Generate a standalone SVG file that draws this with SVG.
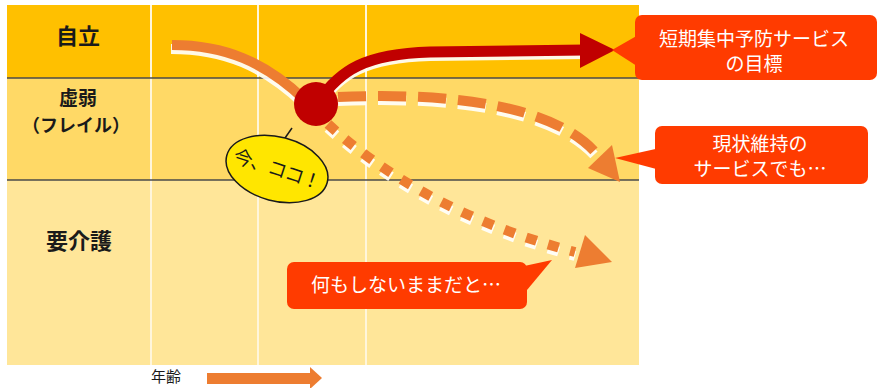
<svg xmlns="http://www.w3.org/2000/svg" width="878" height="388" viewBox="0 0 878 388">
<defs>
<style>
.lbl{font-family:"Noto Sans CJK JP","Noto Sans",sans-serif;font-weight:bold;fill:#1a1a1a;text-anchor:middle}
.co{font-family:"Noto Sans CJK JP","Noto Sans",sans-serif;font-size:19px;fill:#fff;text-anchor:middle}
.callout{fill:#FF3B00}
.shadow{fill:none;stroke:#fff;stroke-width:10;opacity:0.9}
.orange{fill:none;stroke:#ED7D31;stroke-width:10}
.vline{stroke:#FFF6DC;stroke-width:2}
.hline{stroke:#4a4a4a;stroke-width:1.5}
</style>
</defs>
<rect width="878" height="388" fill="#fff"/>
<g id="chart">
<rect x="7" y="5" width="632" height="73" fill="#FFC000"/>
<rect x="7" y="78" width="632" height="102" fill="#FFD966"/>
<rect x="7" y="180" width="632" height="185" fill="#FFE699"/>
<line class="vline" x1="151" y1="5" x2="151" y2="365"/>
<line class="vline" x1="258" y1="5" x2="258" y2="365"/>
<line class="vline" x1="366" y1="5" x2="366" y2="365"/>
<line class="hline" x1="7" y1="78" x2="639" y2="78"/>
<line class="hline" x1="7" y1="180" x2="639" y2="180"/>
</g>
<g id="row-jiritsu"><text class="lbl" x="78" y="44" font-size="22">自立</text></g>
<g id="row-frail"><text class="lbl" x="78" y="105" font-size="19">虚弱</text><text class="lbl" x="76" y="132" font-size="18">（フレイル）</text></g>
<g id="row-kaigo"><text class="lbl" x="79" y="249" font-size="22">要介護</text></g>
<g id="connectors">
<path class="shadow" transform="translate(-1,4)" d="M172,45 C225,45 265,62 305,100"/>
<path class="orange" d="M172,45 C225,45 265,62 305,100"/>
<path class="shadow" transform="translate(0,4)" d="M338,97 C450,92 560,105 600,158" stroke-dasharray="28 12"/>
<path class="orange" d="M338,97 C450,92 560,105 600,158" stroke-dasharray="28 12"/>
<polygon points="612,145 588,168 620,182" fill="#ED7D31"/>
<path class="shadow" transform="translate(0,4)" d="M328,124 C380,172 460,222 575,252" stroke-dasharray="11 12"/>
<path class="orange" d="M328,124 C380,172 460,222 575,252" stroke-dasharray="11 12"/>
<polygon points="585,235 575,268 612,262" fill="#ED7D31"/>
<path class="shadow" transform="translate(0,4)" d="M318,102 C340,70 365,54 430,52 L585,50"/>
<path fill="none" stroke="#C00000" stroke-width="11" d="M318,102 C340,70 365,54 430,52 L585,50"/>
<polygon points="580,33 615,50 580,68" fill="#C00000"/>
<circle cx="316" cy="104" r="22" fill="#C00000"/>
<rect x="207" y="373" width="104" height="11" fill="#ED7D31"/>
<polygon points="310,367 322,378 310,389" fill="#ED7D31"/>
</g>
<g id="age-label"><text x="166" y="382" font-family="Noto Sans CJK JP, sans-serif" font-size="15" fill="#1a1a1a" text-anchor="middle">年齢</text></g>
<g id="callout-goal">
<polygon class="callout" points="612,50 640,34 640,68"/>
<rect class="callout" x="635" y="15" width="242" height="65" rx="7"/>
<text class="co" x="754" y="46">短期集中予防サービス</text>
<text class="co" x="754" y="71">の目標</text>
</g>
<g id="callout-maintain">
<polygon class="callout" points="615,158 660,148 660,170"/>
<rect class="callout" x="655" y="126" width="213" height="58" rx="7"/>
<text class="co" x="760" y="151">現状維持の</text>
<text class="co" x="760" y="176">サービスでも…</text>
</g>
<g id="callout-nothing">
<polygon class="callout" points="515,268 552,260 527,290"/>
<rect class="callout" x="287" y="262" width="240" height="47" rx="7"/>
<text class="co" x="406" y="292">何もしないままだと…</text>
</g>
<g id="now-here">
<line x1="285" y1="138" x2="292" y2="128" stroke="#1a1a1a" stroke-width="1.5"/>
<ellipse cx="277" cy="169" rx="52" ry="32" transform="rotate(15 277 169)" fill="#FFE600" stroke="#1a1a1a" stroke-width="1.5"/>
<text x="277" y="176" transform="rotate(18 277 169)" font-family="Noto Sans CJK JP, sans-serif" font-size="19" fill="#1a1a1a" text-anchor="middle" letter-spacing="-1">今、ココ！</text>
</g>
</svg>
